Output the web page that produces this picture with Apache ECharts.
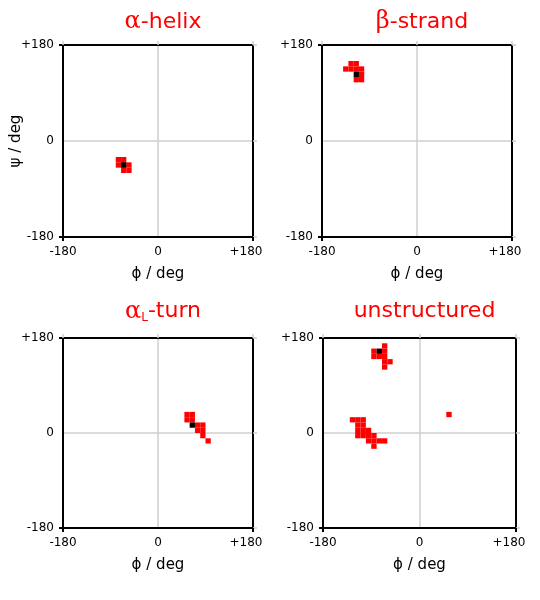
<!DOCTYPE html>
<html><head><meta charset="utf-8">
<script src="https://cdn.jsdelivr.net/npm/echarts@6/dist/echarts.min.js"></script>
<style>html,body{margin:0;padding:0;background:#fff}#c{width:540px;height:600px}</style>
</head><body><div id="c"></div>
<script>
// ---- data ----
const BIN = 10; // degrees per cell
const axisMin = -180, axisMax = 180, axisStep = 180;
const panelTitles = ['{g|α}-helix', '{g|β}-strand', '{g|α}{s|L}-turn', 'unstructured'];
const xAxisTitle = 'ϕ / deg';
const yAxisTitle = 'ψ / deg';
// cells: [phi start, psi start]
const helixRed = [[-80,-50],[-70,-50],[-80,-40],[-70,-40],[-70,-60],[-60,-60],[-60,-50]];
const helixBlack = [[-70,-50]];
const strandRed = [[-130,140],[-120,140],[-140,130],[-130,130],[-120,130],[-110,130],[-110,120],[-120,110],[-110,110]];
const strandBlack = [[-120,120]];
const turnRed = [[50,30],[60,30],[50,20],[60,20],[70,10],[80,10],[70,0],[80,0],[80,-10],[90,-20]];
const turnBlack = [[60,10]];
const unstrRed = [
  [-90,150],[-90,140],[-80,140],[-70,160],[-70,150],[-70,140],[-70,130],[-70,120],[-60,130],
  [-130,20],[-120,20],[-110,20],
  [-120,10],[-110,10],
  [-120,0],[-110,0],[-100,0],
  [-120,-10],[-110,-10],[-100,-10],[-90,-10],
  [-100,-20],[-90,-20],[-80,-20],[-70,-20],
  [-90,-30],
  [50,30]
];
const unstrBlack = [[-80,150]];
const panelRed = [helixRed, strandRed, turnRed, unstrRed];
const panelBlack = [helixBlack, strandBlack, turnBlack, unstrBlack];

// ---- layout ----
const grids = [
  {left:63, top:45, width:190, height:192},
  {left:322, top:45, width:190, height:192},
  {left:63, top:338, width:190, height:190},
  {left:323, top:338, width:193, height:190}
];
const FONT = 'DejaVu Sans';
const GRIDC = '#cfcfcf';
const frame = {show:true, onZero:false, lineStyle:{color:'#000', width:2}};
const tickBlack = {show:true, inside:false, length:4, customValues:[-180,180], lineStyle:{color:'#000', width:2}};
const tickGray = {show:true, inside:false, length:4, customValues:[-180,0,180], lineStyle:{color:GRIDC, width:1.5}};
const gridLine = {show:true, lineStyle:{color:GRIDC, width:1.5}};

const xAxes = [], yAxes = [], series = [], titles = [];
grids.forEach((g, i) => {
  xAxes.push({
    type:'value', gridIndex:i, position:'bottom', min:axisMin, max:axisMax, interval:axisStep,
    axisLine:frame, axisTick:tickBlack, splitLine:{show:false},
    axisLabel:{show:true, margin:9, color:'#000', fontFamily:FONT, fontSize:12,
      formatter: v => v > 0 ? '{p|+' + v + '}' : String(v),
      rich:{p:{color:'#000', fontFamily:FONT, fontSize:12, padding:[0,14,0,0]}}},
    name:xAxisTitle, nameLocation:'middle', nameGap:30, nameMoveOverlap:false,
    nameTextStyle:{color:'#000', fontFamily:FONT, fontSize:15}
  });
  xAxes.push({
    type:'value', gridIndex:i, position:'top', min:axisMin, max:axisMax, interval:axisStep,
    axisLine:frame, axisTick:tickGray, splitLine:gridLine, axisLabel:{show:false}
  });
  yAxes.push({
    type:'value', gridIndex:i, position:'left', min:axisMin, max:axisMax, interval:axisStep,
    axisLine:frame, axisTick:tickBlack, splitLine:{show:false},
    axisLabel:{show:true, margin:9, color:'#000', fontFamily:FONT, fontSize:12,
      formatter: v => v > 0 ? '+' + v : String(v)},
    name: i === 0 ? yAxisTitle : '', nameLocation:'middle', nameGap:39, nameMoveOverlap:false,
    nameTextStyle:{color:'#000', fontFamily:FONT, fontSize:15}
  });
  yAxes.push({
    type:'value', gridIndex:i, position:'right', min:axisMin, max:axisMax, interval:axisStep,
    axisLine:frame, axisTick:tickGray, splitLine:gridLine, axisLabel:{show:false}
  });
  const mk = (data, color) => ({
    type:'custom', xAxisIndex:2*i, yAxisIndex:2*i, data:data, silent:true, animation:false, z:5,
    renderItem:(params, api) => {
      const a = api.coord([api.value(0), api.value(1)]);
      const b = api.coord([api.value(0) + BIN, api.value(1) + BIN]);
      return {type:'rect', shape:{x:a[0], y:b[1], width:b[0]-a[0], height:a[1]-b[1]}, style:{fill:color}};
    }
  });
  series.push(mk(panelRed[i], '#ff0000'));
  series.push(mk(panelBlack[i], '#000000'));
  titles.push({
    text: panelTitles[i], left: g.left + g.width/2, top: 5, textAlign:'center',
    textStyle:{color:'#ff0000', fontFamily:FONT, fontSize:22, fontWeight:'normal',
      rich:{
        g:{color:'#ff0000', fontFamily:'DejaVu Serif', fontSize:24},
        s:{color:'#ff0000', fontFamily:FONT, fontSize:12, padding:[13,0,0,0]}
      }}
  });
});
titles[2].top = 294;
titles[3].top = 295;

const chart = echarts.init(document.getElementById('c'), null, {renderer:'canvas'});
chart.setOption({
  backgroundColor:'#fff', animation:false,
  title: titles, grid: grids, xAxis: xAxes, yAxis: yAxes, series: series
});
</script></body></html>
